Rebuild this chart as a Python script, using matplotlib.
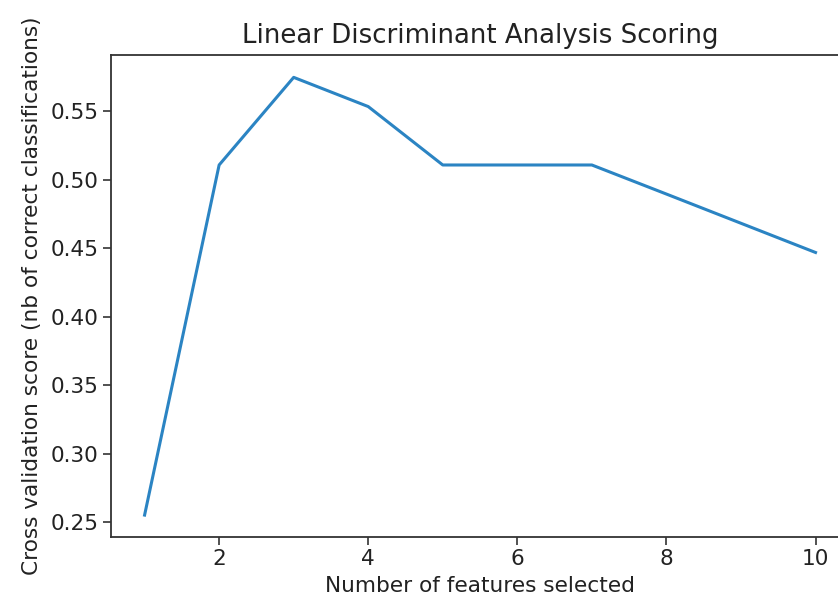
import matplotlib
matplotlib.use('Agg')

import matplotlib.pyplot as plt

# number of features vs. cross-validated score
n_features = [1, 2, 3, 4, 5, 6, 7, 8, 9, 10]
cv_scores = [0.2553, 0.5106, 0.5745, 0.5532, 0.5106, 0.5106, 0.5106, 0.4894, 0.4681, 0.4468]

fig = plt.figure(figsize=(8.38, 6.03), dpi=100)
ax = fig.add_axes([0.1325, 0.1095, 0.8807, 0.7985])

ax.plot(n_features, cv_scores, color='#2b84c3', linewidth=2.2)

ax.set_title('Linear Discriminant Analysis Scoring', fontsize=18.7, pad=9, color='#222222')
ax.set_xlabel('Number of features selected', fontsize=15.6, labelpad=5, color='#222222')
ax.set_ylabel('Cross validation score (nb of correct classifications)', fontsize=15.6,
              labelpad=6, color='#222222')
ax.tick_params(labelsize=15.6, length=5.5, width=1.2, labelcolor='#222222', color='#333333')
for s in ax.spines.values():
    s.set_linewidth(1.3)
    s.set_color('#333333')
ax.set_xticks([2, 4, 6, 8, 10])

fig.savefig('out.png', dpi=100)
